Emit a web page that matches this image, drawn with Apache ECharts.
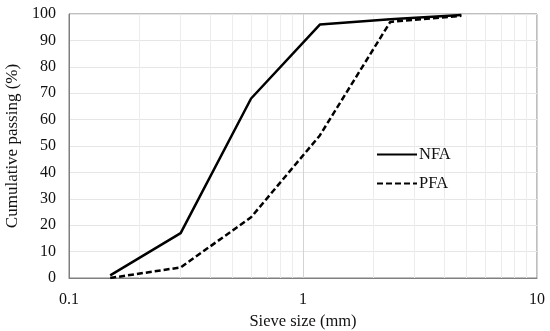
<!DOCTYPE html>
<html>
<head>
<meta charset="utf-8">
<script src="https://cdn.jsdelivr.net/npm/echarts@6/dist/echarts.min.js"></script>
<style>html,body{margin:0;padding:0;background:#fff;}#c{width:550px;height:331px;}</style>
</head>
<body>
<div id="c"></div>
<script>
const sieveSizes = [0.15, 0.3, 0.6, 1.18, 2.36, 4.75];
const nfaValues = [1, 17, 68, 96, 98, 99.6];
const pfaValues = [0, 4, 23, 54, 97, 99.3];
const minorGridX = [0.2,0.3,0.4,0.5,0.6,0.7,0.8,0.9,2,3,4,5,6,7,8,9];
const seriesNames = ['NFA', 'PFA'];

const font = '"Liberation Serif", "Times New Roman", serif';
const chart = echarts.init(document.getElementById('c'));
chart.setOption({
  animation: false,
  grid: { left: 69, right: 13, top: 14, bottom: 53, show: true, borderColor: '#7f7f7f', borderWidth: 1, backgroundColor: 'transparent', containLabel: false, outerBoundsMode: 'none' },
  xAxis: {
    type: 'log', logBase: 10, min: 0.1, max: 10,
    name: 'Sieve size (mm)', nameLocation: 'middle', nameGap: 34,
    nameTextStyle: { fontFamily: font, fontSize: 16.5, color: '#111' },
    axisLine: { show: true, lineStyle: { color: '#7f7f7f', width: 1 } },
    axisTick: { show: false },
    axisLabel: { fontFamily: font, fontSize: 16, color: '#111', margin: 14 },
    splitLine: { show: true, lineStyle: { color: '#d4d4d4', width: 1 } }
  },
  yAxis: {
    type: 'value', min: 0, max: 100, interval: 10,
    name: 'Cumulative passing (%)', nameLocation: 'middle', nameGap: 47,
    nameTextStyle: { fontFamily: font, fontSize: 17, color: '#111' },
    axisLine: { show: true, lineStyle: { color: '#7f7f7f', width: 1 } },
    axisTick: { show: false },
    axisLabel: { fontFamily: font, fontSize: 16, color: '#111', margin: 13 },
    splitLine: { show: true, lineStyle: { color: '#e6e6e6', width: 1 } }
  },
  legend: {
    orient: 'vertical', left: 371, top: 141, itemWidth: 40, itemHeight: 10, itemGap: 12,
    data: seriesNames,
    itemStyle: { opacity: 0 },
    textStyle: { fontFamily: font, fontSize: 16.5, color: '#111', padding: [0,0,0,-3] }
  },
  series: [
    {
      name: 'minor', type: 'line', data: [], z: 1, silent: true,
      markLine: {
        silent: true, symbol: 'none', z: 1, label: { show: false },
        lineStyle: { color: '#ececec', width: 1, type: 'solid' },
        data: minorGridX.map(v => ({ xAxis: v }))
      }
    },
    {
      name: seriesNames[0], type: 'line', z: 3, showSymbol: false, symbol: 'none',
      data: sieveSizes.map((s, i) => [s, nfaValues[i]]),
      lineStyle: { color: '#000', width: 2.5, type: 'solid' },
      itemStyle: { color: '#000' }
    },
    {
      name: seriesNames[1], type: 'line', z: 3, showSymbol: false, symbol: 'none',
      data: sieveSizes.map((s, i) => [s, pfaValues[i]]),
      lineStyle: { color: '#000', width: 2.5, type: [6, 3] },
      itemStyle: { color: '#000' }
    }
  ]
});
</script>
</body>
</html>
